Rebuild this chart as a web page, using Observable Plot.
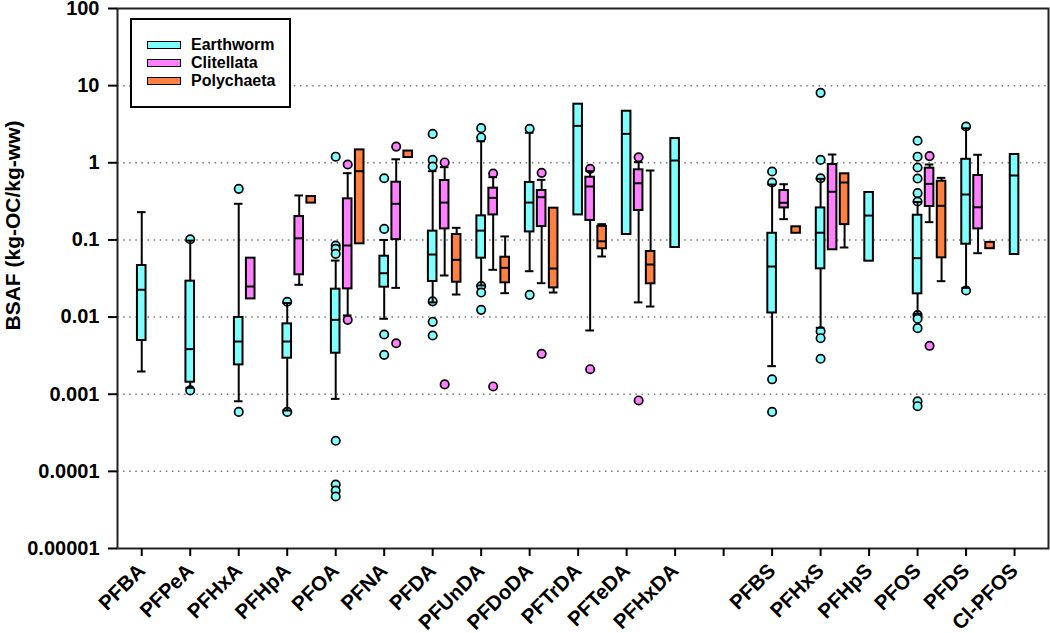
<!DOCTYPE html>
<html><head><meta charset="utf-8">
<script src="https://cdn.jsdelivr.net/npm/d3@7"></script>
<script src="https://cdn.jsdelivr.net/npm/@observablehq/plot@0.6"></script>
<style>
body{margin:0;background:#fff;font-family:"Liberation Sans",Arial,sans-serif;}
#wrap{position:relative;width:1050px;height:633px;}
#legend{position:absolute;left:130px;top:18px;width:157px;height:86px;border:2px solid #000;background:#fff;}
.row{position:absolute;left:15px;height:18px;display:flex;align-items:center;font-weight:bold;font-size:16px;color:#000;}
.sw{width:32px;height:6px;border:1.5px solid #000;margin-right:10px;}
</style></head>
<body>
<div id="wrap"><div id="chart"></div><div id="legend"></div></div>
<script>
// Categories (x tick labels); "" is the empty slot between carboxylates and sulfonates
const compounds = ["PFBA","PFPeA","PFHxA","PFHpA","PFOA","PFNA","PFDA","PFUnDA","PFDoDA","PFTrDA","PFTeDA","PFHxDA","","PFBS","PFHxS","PFHpS","PFOS","PFDS","Cl-PFOS"];
const groupNames = ["Earthworm","Clitellata","Polychaeta"];
const groupColors = ["#80FFFF","#FF80FF","#FF8040"];

// [compound, whiskerLow, q1, median, q3, whiskerHigh]
const earthworm = [
  ["PFBA",0.00197,0.00497,0.0226,0.0466,0.229],
  ["PFPeA",0.00121,0.00143,0.00384,0.0292,0.098],
  ["PFHxA",0.00081,0.0024,0.00482,0.0099,0.294],
  ["PFHpA",0.000615,0.00293,0.00482,0.00817,0.0152],
  ["PFOA",0.00087,0.0034,0.0092,0.023,0.054],
  ["PFNA",0.0095,0.0244,0.037,0.0615,0.1],
  ["PFDA",0.0155,0.0289,0.0647,0.13,0.778],
  ["PFUnDA",0.0257,0.058,0.132,0.205,1.9],
  ["PFDoDA",0.0393,0.127,0.305,0.555,2.45],
  ["PFTrDA",0.211,0.211,3.01,5.75,5.75],
  ["PFTeDA",0.1175,0.1175,2.37,4.66,4.66],
  ["PFHxDA",0.0798,0.0798,1.07,2.06,2.06],
  ["PFBS",0.00231,0.0113,0.0452,0.122,0.523],
  ["PFHxS",0.00726,0.0422,0.124,0.26,0.619],
  ["PFHpS",0.053,0.053,0.207,0.412,0.412],
  ["PFOS",0.011,0.02,0.058,0.209,0.31],
  ["PFDS",0.0239,0.088,0.388,1.11,2.8],
  ["Cl-PFOS",0.0647,0.0647,0.684,1.28,1.28]
];
const clitellata = [
  ["PFHxA",0.0172,0.0172,0.0249,0.058,0.058],
  ["PFHpA",0.0262,0.0353,0.105,0.201,0.377],
  ["PFOA",0.0105,0.0232,0.0847,0.341,0.733],
  ["PFNA",0.0239,0.101,0.294,0.56,1.11],
  ["PFDA",0.0346,0.139,0.305,0.589,0.877],
  ["PFUnDA",0.041,0.211,0.351,0.469,0.65],
  ["PFDoDA",0.0275,0.149,0.358,0.437,0.601],
  ["PFTrDA",0.0067,0.179,0.493,0.65,0.778],
  ["PFTeDA",0.0155,0.241,0.543,0.811,1.02],
  ["PFBS",0.186,0.26,0.303,0.437,0.527],
  ["PFHxS",0.0745,0.0745,0.421,0.95,1.28],
  ["PFOS",0.17,0.271,0.533,0.851,0.95],
  ["PFDS",0.0673,0.139,0.265,0.684,1.27]
];
const polychaeta = [
  ["PFHpA",0.3,0.3,null,0.365,0.365],
  ["PFOA",0.089,0.089,0.778,1.47,1.47],
  ["PFNA",1.17,1.17,null,1.42,1.42],
  ["PFDA",0.0196,0.0283,0.0552,0.1175,0.1435],
  ["PFUnDA",0.0204,0.0278,0.0435,0.0597,0.111],
  ["PFDoDA",0.0208,0.0239,0.0426,0.258,0.258],
  ["PFTrDA",0.061,0.0767,0.096,0.15,0.16],
  ["PFTeDA",0.0137,0.027,0.048,0.0708,0.794],
  ["PFBS",0.122,0.122,null,0.148,0.148],
  ["PFHxS",0.0798,0.158,0.555,0.72,0.72],
  ["PFOS",0.0292,0.0586,0.277,0.577,0.638],
  ["PFDS",0.077,0.077,null,0.093,0.093]
];

// Outliers: [compound, value]
const earthwormOut = [
  ["PFPeA",0.102],["PFPeA",0.00112],
  ["PFHxA",0.459],["PFHxA",0.00059],
  ["PFHpA",0.0158],["PFHpA",0.00059],
  ["PFOA",1.2],["PFOA",0.0847],["PFOA",0.0767],["PFOA",0.066],["PFOA",0.000249],["PFOA",0.0000675],["PFOA",0.0000565],["PFOA",0.0000472],
  ["PFNA",0.63],["PFNA",0.139],["PFNA",0.00594],["PFNA",0.00324],
  ["PFDA",2.37],["PFDA",1.09],["PFDA",0.895],["PFDA",0.016],["PFDA",0.00867],["PFDA",0.00577],
  ["PFUnDA",2.81],["PFUnDA",2.13],["PFUnDA",0.0252],["PFUnDA",0.0208],["PFUnDA",0.0124],
  ["PFDoDA",2.76],["PFDoDA",0.0194],
  ["PFBS",0.771],["PFBS",0.555],["PFBS",0.00156],["PFBS",0.00059],
  ["PFHxS",8.07],["PFHxS",1.09],["PFHxS",0.63],["PFHxS",0.00656],["PFHxS",0.00532],["PFHxS",0.00288],
  ["PFOS",1.93],["PFOS",1.2],["PFOS",0.869],["PFOS",0.625],["PFOS",0.404],["PFOS",0.315],["PFOS",0.0106],["PFOS",0.0095],["PFOS",0.00718],["PFOS",0.00081],["PFOS",0.000699],
  ["PFDS",2.95],["PFDS",0.0221]
];
const clitellataOut = [
  ["PFOA",0.95],["PFOA",0.0092],
  ["PFNA",1.62],["PFNA",0.00458],
  ["PFDA",1.01],["PFDA",0.00134],
  ["PFUnDA",0.726],["PFUnDA",0.00126],
  ["PFDoDA",0.741],["PFDoDA",0.00334],
  ["PFTrDA",0.835],["PFTrDA",0.00211],
  ["PFTeDA",1.18],["PFTeDA",0.00083],
  ["PFOS",1.22],["PFOS",0.00424]
];
const polychaetaOut = [];

const yTicks = [0.00001,0.0001,0.001,0.01,0.1,1,10,100];
const yTickLabels = ["0.00001","0.0001","0.001","0.01","0.1","1","10","100"];
const gridValues = [0.0001,0.001,0.01,0.1,1,10];
const yLabel = "BSAF (kg-OC/kg-ww)";

// layout helpers (in slot units of the x scale)
const groupOffset = [0, 0.2474, 0.4948];
const hw = 4.3 / 48.5;

const statsByGroup = [earthworm, clitellata, polychaeta];
const outByGroup = [earthwormOut, clitellataOut, polychaetaOut];
const boxes = statsByGroup.flatMap((rows, g) => rows.map(([c, lo, q1, med, q3, hi]) => ({
  x: compounds.indexOf(c) + groupOffset[g], lo, q1, med, q3, hi, color: groupColors[g]
})));
const outs = outByGroup.flatMap((rows, g) => rows.map(([c, v]) => ({
  x: compounds.indexOf(c) + groupOffset[g], v, color: groupColors[g]
})));
const lowW = boxes.filter(d => d.lo < d.q1);
const highW = boxes.filter(d => d.hi > d.q3);
const meds = boxes.filter(d => d.med != null);

const chart = Plot.plot({
  width: 1050, height: 633,
  marginTop: 8, marginBottom: 85, marginLeft: 117, marginRight: 2,
  style: {fontFamily: "'Liberation Sans', Arial, sans-serif", background: "#fff", color: "#000", overflow: "visible"},
  x: {type: "linear", domain: [-0.5, 18.7]},
  y: {type: "log", domain: [0.00001, 100]},
  color: {type: "identity"},
  marks: [
    Plot.ruleY(gridValues, {stroke: "#777", strokeWidth: 1.5, strokeDasharray: "1.5,4.6"}),
    Plot.dot(outs, {x: "x", y: "v", r: 4.2, fill: "color", stroke: "#000", strokeWidth: 1.7}),
    Plot.ruleX(lowW, {x: "x", y1: "lo", y2: "q1", stroke: "#000", strokeWidth: 2}),
    Plot.ruleX(highW, {x: "x", y1: "q3", y2: "hi", stroke: "#000", strokeWidth: 2}),
    Plot.ruleY(lowW, {y: "lo", x1: d => d.x - hw, x2: d => d.x + hw, stroke: "#000", strokeWidth: 2}),
    Plot.ruleY(highW, {y: "hi", x1: d => d.x - hw, x2: d => d.x + hw, stroke: "#000", strokeWidth: 2}),
    Plot.rect(boxes, {x1: d => d.x - hw, x2: d => d.x + hw, y1: "q1", y2: "q3", fill: "color", stroke: "#000", strokeWidth: 2}),
    Plot.ruleY(meds, {y: "med", x1: d => d.x - hw, x2: d => d.x + hw, stroke: "#000", strokeWidth: 2}),
    Plot.frame({stroke: "#222", strokeWidth: 2}),
    Plot.axisY({ticks: yTicks, tickFormat: d => yTickLabels[yTicks.indexOf(d)], tickSize: 9, tickPadding: 9, fontSize: 20, fontWeight: "bold", strokeWidth: 2, label: null}),
    Plot.axisX({ticks: d3.range(compounds.length), tickFormat: d => compounds[d], tickRotate: -45, tickSize: 8, tickPadding: 11, fontSize: 20.5, fontWeight: "bold", strokeWidth: 2, label: null}),
    Plot.text([yLabel], {frameAnchor: "left", dx: -104, dy: -53, rotate: -90, textAnchor: "middle", fontSize: 21, fontWeight: "bold", fill: "#000"})
  ]
});
document.getElementById("chart").appendChild(chart);

const legend = document.getElementById("legend");
groupNames.forEach((name, i) => {
  const row = document.createElement("div");
  row.className = "row";
  row.style.top = (16 + i * 18) + "px";
  const sw = document.createElement("div");
  sw.className = "sw";
  sw.style.background = groupColors[i];
  row.appendChild(sw);
  row.appendChild(document.createTextNode(name));
  legend.appendChild(row);
});
</script>
</body></html>
